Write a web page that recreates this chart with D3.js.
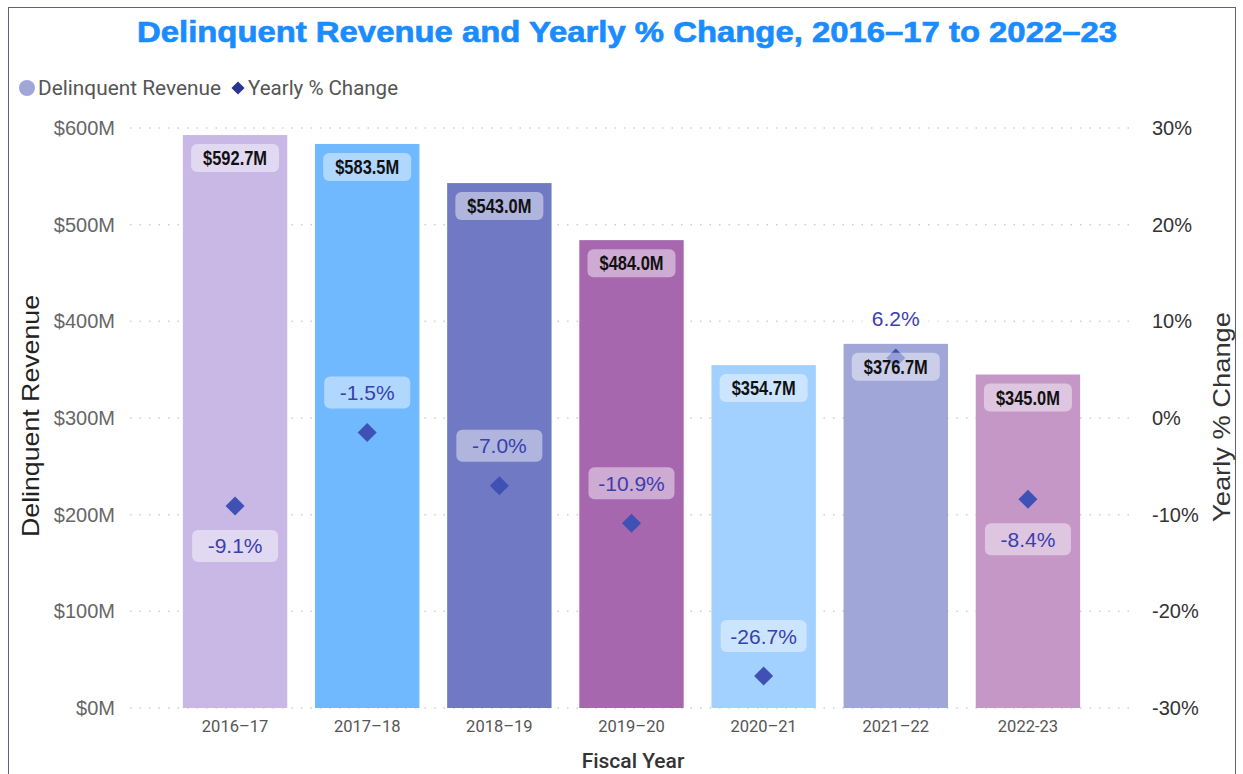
<!DOCTYPE html>
<html><head><meta charset="utf-8">
<script src="https://cdn.jsdelivr.net/npm/d3@7"></script>
<style>body{margin:0;background:#fff}svg{display:block}</style>
</head><body>
<svg id="c" width="1243" height="774"></svg>
<script>
const categories = ["2016–17","2017–18","2018–19","2019–20","2020–21","2021–22","2022-23"];
const revenue = [592.7, 583.5, 543.0, 484.0, 354.7, 376.7, 345.0];
const pctChange = [-9.1, -1.5, -7.0, -10.9, -26.7, 6.2, -8.4];
const labelPos = ["below","above","above","above","above","above","below"];
const barColors = ["#C9B8E6","#70B9FF","#7079C4","#A667AF","#A2D0FF","#A0A6D8","#C497C7"];
const leftTicks = [0,100,200,300,400,500,600];
const rightTicks = [-30,-20,-10,0,10,20,30];

const svg = d3.select("#c");
const plotTop = 128, plotBottom = 708;

// frame
svg.append("rect").attr("x",8.5).attr("y",7.5).attr("width",1227).attr("height",780)
  .attr("fill","none").attr("stroke","#5a6475").attr("stroke-width",1);

const x = d3.scaleBand().domain(categories).range([169,1094]).paddingInner(0.21).paddingOuter(0.105);
const yL = d3.scaleLinear().domain([0,600]).range([plotBottom,plotTop]);
const yR = d3.scaleLinear().domain([-30,30]).range([plotBottom,plotTop]);

// gridlines
svg.append("g").selectAll("line").data(leftTicks).join("line")
  .attr("x1",130).attr("x2",1135).attr("y1",d=>yL(d)).attr("y2",d=>yL(d))
  .attr("stroke","#d0d0d0").attr("stroke-width",1.5).attr("stroke-dasharray","1.5,8");

// title
svg.append("text").attr("x",627).attr("y",42).attr("text-anchor","middle")
  .attr("font-family","Liberation Sans, Arial, sans-serif").attr("font-weight","bold")
  .attr("font-size",30).attr("fill","#1a8cff").attr("stroke","#1a8cff").attr("stroke-width",0.7)
  .attr("textLength",980).attr("lengthAdjust","spacingAndGlyphs")
  .text("Delinquent Revenue and Yearly % Change, 2016–17 to 2022–23");

// legend
const lg = svg.append("g").attr("font-family","Roboto, sans-serif").attr("font-size",19.5).attr("fill","#555");
lg.append("circle").attr("cx",27).attr("cy",88).attr("r",8).attr("fill","#A0A6D8");
lg.append("text").attr("x",38).attr("y",95).text("Delinquent Revenue").attr("textLength",183).attr("lengthAdjust","spacingAndGlyphs");
lg.append("path").attr("d",d3.symbol(d3.symbolDiamond2,110)()).attr("transform","translate(238,88)").attr("fill","#283593");
lg.append("text").attr("x",248).attr("y",95).text("Yearly % Change").attr("textLength",150).attr("lengthAdjust","spacingAndGlyphs");

// bars
svg.append("g").selectAll("rect").data(revenue).join("rect")
  .attr("x",(d,i)=>x(categories[i])).attr("width",x.bandwidth())
  .attr("y",d=>yL(d)).attr("height",d=>plotBottom-yL(d))
  .attr("fill",(d,i)=>barColors[i]);

// left axis
const axL = svg.append("g").attr("transform","translate(120,0)")
  .call(d3.axisLeft(yL).tickValues(leftTicks).tickSize(0).tickPadding(5).tickFormat(d=>"$"+d+"M"));
axL.select(".domain").remove();
axL.selectAll("text").attr("font-family","Liberation Sans, Arial, sans-serif").attr("font-size",20).attr("fill","#666");

// right axis
const axR = svg.append("g").attr("transform","translate(1147,0)")
  .call(d3.axisRight(yR).tickValues(rightTicks).tickSize(0).tickPadding(5).tickFormat(d=>d+"%"));
axR.select(".domain").remove();
axR.selectAll("text").attr("font-family","Liberation Sans, Arial, sans-serif").attr("font-size",20).attr("fill","#333");

// x axis
const axX = svg.append("g").attr("transform",`translate(0,${plotBottom})`)
  .call(d3.axisBottom(x).tickSize(0).tickPadding(12));
axX.select(".domain").remove();
axX.selectAll("text").attr("font-family","Roboto, sans-serif").attr("font-size",16.5).attr("fill","#555");

// axis titles
svg.append("text").attr("transform","translate(39,416) rotate(-90)").attr("text-anchor","middle")
  .attr("font-family","Liberation Sans, Arial, sans-serif").attr("font-size",24).attr("fill","#222")
  .attr("textLength",242).attr("lengthAdjust","spacingAndGlyphs").text("Delinquent Revenue");
svg.append("text").attr("transform","translate(1230,417) rotate(-90)").attr("text-anchor","middle")
  .attr("font-family","Liberation Sans, Arial, sans-serif").attr("font-size",24).attr("fill","#333")
  .attr("textLength",210).attr("lengthAdjust","spacingAndGlyphs").text("Yearly % Change");
svg.append("text").attr("x",633).attr("y",768).attr("text-anchor","middle")
  .attr("font-family","Roboto, sans-serif").attr("font-weight","500").attr("font-size",21).attr("fill","#333").text("Fiscal Year");

// pct markers and labels (drawn before value labels so those sit on top)
const pg = svg.append("g");
pg.selectAll("path").data(pctChange).join("path")
  .attr("d",d3.symbol(d3.symbolDiamond2,230)())
  .attr("transform",(d,i)=>`translate(${x(categories[i])+x.bandwidth()/2},${yR(d)})`)
  .attr("fill","#3f51b5");
pctChange.forEach((d,i)=>{
  const cx = x(categories[i]) + x.bandwidth()/2, my = yR(d);
  const ly = labelPos[i]==="above" ? my-40 : my+40;
  pg.append("rect").attr("x",cx-43).attr("y",ly-16).attr("width",86).attr("height",32).attr("rx",6)
    .attr("fill","#fff").attr("fill-opacity",0.45);
  pg.append("text").attr("x",cx).attr("y",ly+7.5).attr("text-anchor","middle")
    .attr("font-family","Liberation Sans, Arial, sans-serif").attr("font-size",21).attr("fill","#3a3fae")
    .text(d.toFixed(1)+"%");
});

// value labels
const vl = svg.append("g");
revenue.forEach((d,i)=>{
  const cx = x(categories[i]) + x.bandwidth()/2, cy = yL(d)+23;
  vl.append("rect").attr("x",cx-44).attr("y",cy-14).attr("width",88).attr("height",28).attr("rx",6)
    .attr("fill","#fff").attr("fill-opacity",0.45);
  vl.append("text").attr("x",cx).attr("y",cy+7).attr("text-anchor","middle")
    .attr("font-family","Liberation Sans, Arial, sans-serif").attr("font-weight","bold")
    .attr("font-size",20).attr("fill","#111")
    .attr("textLength",64).attr("lengthAdjust","spacingAndGlyphs")
    .text("$"+d.toFixed(1)+"M");
});
</script>
</body></html>
